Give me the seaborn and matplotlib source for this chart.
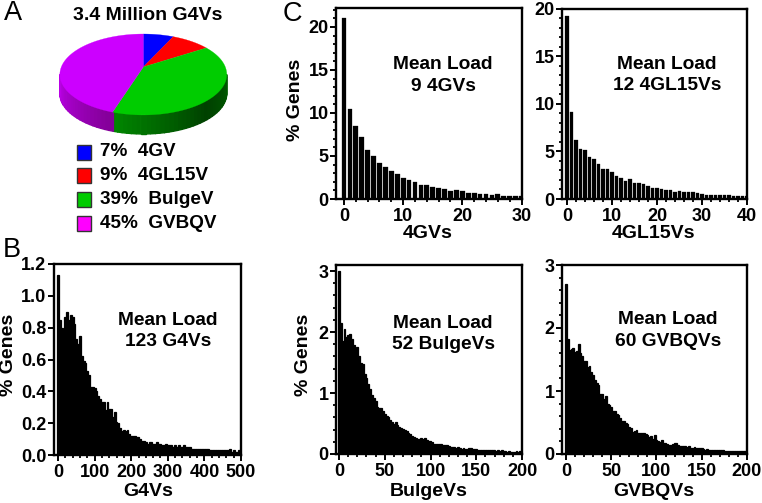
import numpy as np
import matplotlib
matplotlib.use("Agg")
import matplotlib.pyplot as plt
from matplotlib.ticker import MultipleLocator
import seaborn as sns

pie_labels = ["4GV", "4GL15V", "BulgeV", "GVBQV"]
pie_share = [7, 9, 39, 45]
pie_colors = ["#0000ff", "#ff0000", "#00cc00", "#cc00ff"]
legend_colors = ["#0000ff", "#ff0000", "#00cc00", "#ff00ff"]

g4v_bins = list(range(0, 505, 5))
g4v_pct = [1.13, .85, .80, .79, .87, .90, .85, .88, .87, .82, .73, .70, .75, .62, .59, .58, .53, .50, .43, .43,
           .42, .40, .37, .35, .33, .33, .28, .33, .29, .29, .24, .27, .21, .20, .17, .15, .16, .15, .16, .13,
           .12, .12, .12, .11, .11, .10, .09, .09, .08, .07, .08, .08, .07, .07, .08, .07, .07, .06, .06, .07,
           .06, .06, .06, .05, .06, .05, .06, .05, .05, .06, .05, .05, .05, .04, .04, .04, .04, .04, .04, .04,
           .04, .04, .04, .03, .03, .03, .03, .03, .03, .03, .03, .03, .03, .03, .04, .02, .03, .02, .02, .03,
           .03]

gv_bins = list(range(0, 31))
gv_pct = [21, 10.5, 8.5, 7.15, 5.65, 5.0, 4.15, 3.7, 3.25, 2.85, 2.4, 2.2, 1.95, 1.65, 1.6, 1.45, 1.25, 1.2,
          .95, 1.05, .9, .7, .65, .6, .55, .5, .55, .4, .35, .3, .3]

gl15_bins = list(range(0, 41))
gl15_pct = [19.2, 9.15, 6.2, 5.2, 5.1, 4.4, 4.25, 3.7, 3.2, 3.1, 2.85, 2.45, 2.2, 1.9, 2.05, 1.65, 1.65, 1.55,
            1.35, 1.2, 1.2, 1.05, .9, .95, .75, .8, .75, .72, .72, .6, .55, .45, .42, .42, .42, .38, .42, .3,
            .3, .3, .3]

bulge_bins = list(range(0, 202, 2))
bulge_pct = [3.0, 2.15, 1.85, 2.05, 1.92, 1.95, 1.97, 1.88, 1.78, 1.72, 1.75, 1.6, 1.5, 1.47, 1.32, 1.25, 1.15,
             1.07, .97, .92, .87, .77, .76, .76, .7, .65, .63, .6, .55, .52, .5, .52, .47, .44, .42, .41, .4,
             .37, .34, .33, .3, .28, .27, .25, .25, .27, .25, .26, .23, .21, .21, .19, .17, .16, .17, .16, .17,
             .15, .15, .14, .13, .12, .11, .12, .1, .11, .1, .09, .1, .09, .09, .1, .1, .09, .08, .08, .07, .07,
             .06, .07, .06, .07, .06, .07, .06, .06, .05, .06, .05, .06, .05, .05, .04, .05, .04, .04, .04, .05,
             .04, .05, .05]

gvbqv_bins = list(range(0, 202, 2))
gvbqv_pct = [2.7, 1.83, 1.65, 1.66, 1.68, 1.62, 1.63, 1.74, 1.6, 1.55, 1.48, 1.48, 1.38, 1.4, 1.3, 1.25, 1.17,
             1.12, 1.1, .95, .95, .88, .92, .8, .78, .74, .68, .68, .63, .62, .57, .52, .52, .5, .47, .43, .42,
             .35, .36, .38, .34, .34, .33, .33, .32, .3, .27, .29, .24, .3, .23, .21, .19, .22, .18, .18, .16,
             .15, .15, .16, .17, .17, .14, .13, .12, .12, .12, .11, .12, .1, .1, .11, .1, .1, .1, .09, .08, .07,
             .08, .07, .06, .06, .07, .07, .06, .07, .06, .06, .05, .05, .04, .04, .05, .04, .04, .05, .05, .04,
             .05, .04, .04]

W, H = 762, 503

sns.set_theme(style="ticks")
plt.rcParams["font.family"] = ["Liberation Sans"]
plt.rcParams["font.weight"] = "bold"
plt.rcParams["axes.labelweight"] = "bold"

fig = plt.figure(figsize=(W / 100, H / 100), dpi=100)
page = fig.add_axes([0, 0, 1, 1], zorder=5)
page.set_xlim(0, W)
page.set_ylim(H, 0)
page.axis("off")


def hist_panel(box, bins, pct, xlim, ylim, xticks, yticks, xminor, yminor, width=1.0, edge=0.9, yfmt=None):
    left, top, right, bottom = box
    ax = fig.add_axes([left / W, 1 - bottom / H, (right - left) / W, (bottom - top) / H])
    sns.barplot(x=bins, y=pct, native_scale=True, width=width, color="black", saturation=1,
                edgecolor="black", linewidth=edge, ax=ax)
    ax.set_xlim(*xlim)
    ax.set_ylim(*ylim)
    ax.set_xticks(xticks)
    ax.set_yticks(yticks)
    if yfmt:
        ax.set_yticklabels([yfmt % t for t in yticks])
    ax.xaxis.set_minor_locator(MultipleLocator(xminor))
    if yminor:
        ax.yaxis.set_minor_locator(MultipleLocator(yminor))
    ax.tick_params(which="major", length=4.2, width=1.4, labelsize=13, color="black", labelcolor="black", pad=1.2)
    ax.tick_params(axis="x", which="major", pad=2.5)
    ax.tick_params(which="minor", length=2.4, width=1.3, color="black")
    for s in ax.spines.values():
        s.set_linewidth(1.7)
        s.set_color("black")
    ax.set_xlabel("")
    ax.set_ylabel("")
    return ax


hist_panel((54, 264, 241, 455), g4v_bins, g4v_pct, (-11, 500), (0, 1.2),
           [0, 100, 200, 300, 400, 500], [0, .2, .4, .6, .8, 1.0, 1.2], 20, None, yfmt="%.1f")
hist_panel((336, 8, 521.5, 199), gv_bins, gv_pct, (-1.35, 30), (0, 22.2),
           [0, 10, 20, 30], [0, 5, 10, 15, 20], 2, 1, width=0.8, edge=0.2)
hist_panel((562, 8.5, 747, 199), gl15_bins, gl15_pct, (-1.1, 40), (0, 20),
           [0, 10, 20, 30, 40], [0, 5, 10, 15, 20], 2, 1, width=0.7, edge=0.2)
hist_panel((336, 265, 522, 454), bulge_bins, bulge_pct, (-3.3, 200), (0, 3.1),
           [0, 50, 100, 150, 200], [0, 1, 2, 3], 10, 0.2)
hist_panel((562, 265, 747, 454), gvbqv_bins, gvbqv_pct, (-4.4, 200), (0, 3),
           [0, 50, 100, 150, 200], [0, 1, 2, 3], 10, 0.2)

# tilted pie, the perspective makes the near side look bigger
cx, cy, a, h, k = 143.3, 67, 82, 39.1, 0.185
depth = 19


def rim(theta):
    u, v = np.sin(theta), np.cos(theta)
    d = 1 + k * v
    return cx + a * u / d, cy - h * v / d


edges = np.cumsum([0] + pie_share) / 100 * 2 * np.pi

right_end = np.pi - np.arccos(k)
left_end = np.pi + np.arccos(k)
shade_at = np.radians([100, 140, 198, 198.01, 262])
shade_r = [0, 0, 0, 130, 190]
shade_g = [95, 65, 135, 0, 0]
shade_b = [0, 0, 0, 150, 235]
steps = np.linspace(right_end, left_end, 60)
for t0, t1 in zip(steps[:-1], steps[1:]):
    x0, y0 = rim(t0)
    x1, y1 = rim(t1)
    mid = (t0 + t1) / 2
    col = (np.interp(mid, shade_at, shade_r) / 255, np.interp(mid, shade_at, shade_g) / 255,
           np.interp(mid, shade_at, shade_b) / 255)
    page.fill([x0, x1, x1, x0], [y0, y1, y1 + depth, y0 + depth], color=col, lw=1.0)

for t0, t1, col in zip(edges[:-1], edges[1:], pie_colors):
    arc = np.linspace(t0, t1, 80)
    xs, ys = rim(arc)
    page.fill(np.r_[cx, xs], np.r_[cy, ys], color=col, lw=0.2)

for i, (lab, share, col) in enumerate(zip(pie_labels, pie_share, legend_colors)):
    yc = 152 + i * 23.7
    page.add_patch(plt.Rectangle((77, yc - 7.5), 14, 15, facecolor=col, edgecolor="#333333", lw=1))
    gap = "  "
    page.text(100, yc, f"{share}%{gap}{lab}", fontsize=13.6, va="center", ha="left", color="black")

page.text(148, 15, "3.4 Million G4Vs", fontsize=14, ha="center", va="center", color="black")

for lab, x, y in [("A", 4, 13), ("B", 3, 250), ("C", 283, 14)]:
    page.text(x, y, lab, fontsize=19.5, fontweight="normal", ha="left", va="center", color="black")

ylabels = [(9, 355), (295, 100), (303, 355)]
for x, y in ylabels:
    page.text(x, y, "% Genes", fontsize=14, rotation=90, ha="center", va="center", color="black")

xlabels = [("G4Vs", 148, 491), ("4GVs", 428, 233), ("4GL15Vs", 654, 233), ("BulgeVs", 429, 491), ("GVBQVs", 654, 491)]
for lab, x, y in xlabels:
    page.text(x, y, lab, fontsize=14, ha="center", va="center", color="black")

notes = [("Mean Load\n123 G4Vs", 168, 331), ("Mean Load\n9 4GVs", 443, 75.5), ("Mean Load\n12 4GL15Vs", 667, 75),
         ("Mean Load\n52 BulgeVs", 443, 334), ("Mean Load\n60 GVBQVs", 668, 330.5)]
for lab, x, y in notes:
    page.text(x, y, lab, fontsize=13.8, ha="center", va="center", linespacing=1.33, color="black")

plt.savefig("out.png", dpi=100)
